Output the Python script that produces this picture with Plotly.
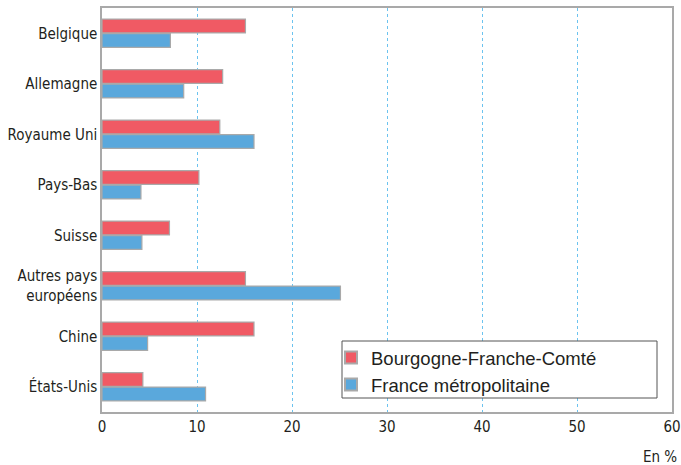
import plotly.graph_objects as go

categories = ["Belgique", "Allemagne", "Royaume Uni", "Pays-Bas", "Suisse",
              "Autres pays<br>européens", "Chine", "États-Unis"]
bfc = [15.1, 12.7, 12.4, 10.2, 7.1, 15.1, 16.0, 4.3]
france = [7.2, 8.6, 16.0, 4.1, 4.2, 25.1, 4.8, 10.9]
x_ticks = [0, 10, 20, 30, 40, 50, 60]

labfont = "DejaVu Sans Condensed, Liberation Sans, Arial, sans-serif"
regular = "Liberation Sans, Arial, sans-serif"

L, W = 102, 570
T, H = 8, 404

fig = go.Figure()
fig.add_trace(go.Bar(y=categories, x=bfc, orientation="h", name="Bourgogne-Franche-Comté",
                     marker=dict(color="#f05a64", line=dict(color="#a9a9a9", width=1.2))))
fig.add_trace(go.Bar(y=categories, x=france, orientation="h", name="France métropolitaine",
                     marker=dict(color="#5aa8dc", line=dict(color="#a9a9a9", width=1.2))))

fig.update_layout(
    width=681, height=465,
    margin=dict(l=L, r=681 - L - W, t=T, b=465 - T - H),
    paper_bgcolor="white", plot_bgcolor="white",
    barmode="group", bargap=0.425, bargroupgap=0.05,
    font=dict(family=labfont, size=15, color="#231f20"),
    showlegend=True,
    legend=dict(x=(331 - L) / W, y=(T + H - 339) / H, xanchor="left", yanchor="top",
                borderwidth=0, bgcolor="rgba(0,0,0,0)",
                font=dict(family=regular, size=18.5, color="#231f20"),
                traceorder="normal", tracegroupgap=0, itemsizing="constant"),
    xaxis=dict(range=[0, 60], tickvals=x_ticks, ticktext=[str(v) for v in x_ticks],
               showgrid=True, gridcolor="#6cc3ef", griddash="3px,3px", gridwidth=1,
               showline=True, linecolor="#a9a9a9", linewidth=1.5, mirror=True,
               zeroline=False, ticks="", ticklen=0, automargin=False,
               tickfont=dict(family=labfont, size=15)),
    yaxis=dict(autorange="reversed", showgrid=False, showline=True,
               linecolor="#a9a9a9", linewidth=1.5, mirror=True, ticks="",
               automargin=False, tickfont=dict(family=labfont, size=15)),
    shapes=[dict(type="rect", xref="paper", yref="paper", layer="above",
                 x0=(342 - L) / W, x1=(657 - L) / W,
                 y0=(T + H - 398) / H, y1=(T + H - 341) / H,
                 line=dict(color="#555555", width=1), fillcolor="white")],
    annotations=[dict(text="En %", x=1, y=-0.083, xref="paper", yref="paper",
                      xanchor="right", yanchor="top", xshift=7, showarrow=False,
                      font=dict(family=labfont, size=15))],
)

fig.write_html("out.html", config={"displayModeBar": False},
               post_script="document.body.style.margin='0';")
